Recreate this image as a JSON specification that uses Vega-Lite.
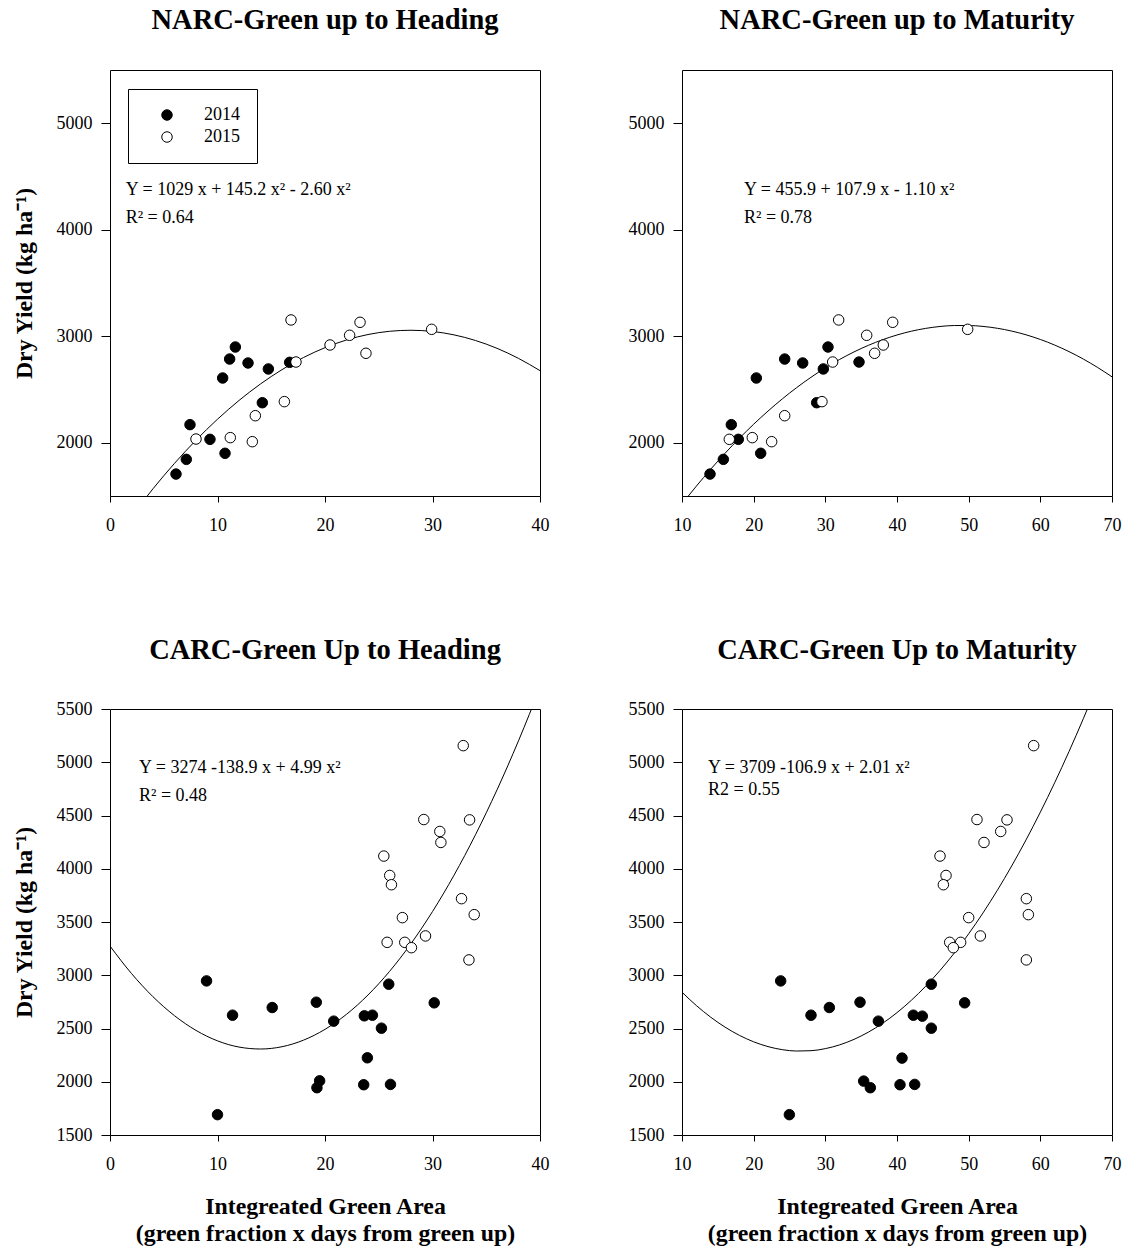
{
  "$schema": "https://vega.github.io/schema/vega-lite/v6.json",
  "background": "white",
  "padding": {"left": 11, "top": 5, "right": 5, "bottom": 5},
  "config": {
    "view": {"stroke": "black", "strokeWidth": 1},
    "font": "Liberation Serif",
    "axis": {"grid": false, "domain": false, "labelFont": "Liberation Serif", "labelFontSize": 18, "labelColor": "black", "tickColor": "black", "tickWidth": 1, "titleFont": "Liberation Serif", "titleFontSize": 23.8, "titleFontWeight": "bold", "titleColor": "black", "labelFlush": false, "labelOverlap": false, "format": "d"},
    "axisX": {"tickSize": 6, "labelPadding": 14, "titlePadding": 21, "titleLineHeight": 27},
    "axisY": {"tickSize": 9, "labelPadding": 9, "titlePadding": 20},
    "title": {"font": "Liberation Serif", "fontSize": 28.5, "fontWeight": "bold", "color": "black", "anchor": "middle", "frame": "group", "baseline": "alphabetic", "offset": 36}
  },
  "datasets": {
    "pts": [
      {"panel": "A", "year": "2014", "x": 6.14, "y": 1706}, {"panel": "A", "year": "2014", "x": 7.10, "y": 1844}, {"panel": "A", "year": "2014", "x": 7.44, "y": 2170}, {"panel": "A", "year": "2014", "x": 9.30, "y": 2032}, {"panel": "A", "year": "2014", "x": 10.70, "y": 1901}, {"panel": "A", "year": "2014", "x": 10.48, "y": 2608}, {"panel": "A", "year": "2014", "x": 11.13, "y": 2786}, {"panel": "A", "year": "2014", "x": 11.66, "y": 2899}, {"panel": "A", "year": "2014", "x": 12.84, "y": 2749}, {"panel": "A", "year": "2014", "x": 14.73, "y": 2693}, {"panel": "A", "year": "2014", "x": 14.17, "y": 2376}, {"panel": "A", "year": "2014", "x": 16.71, "y": 2755},
      {"panel": "A", "year": "2015", "x": 8.0, "y": 2035}, {"panel": "A", "year": "2015", "x": 11.19, "y": 2048}, {"panel": "A", "year": "2015", "x": 13.24, "y": 2010}, {"panel": "A", "year": "2015", "x": 13.52, "y": 2254}, {"panel": "A", "year": "2015", "x": 16.22, "y": 2386}, {"panel": "A", "year": "2015", "x": 16.84, "y": 3153}, {"panel": "A", "year": "2015", "x": 17.30, "y": 2758}, {"panel": "A", "year": "2015", "x": 20.47, "y": 2918}, {"panel": "A", "year": "2015", "x": 22.29, "y": 3009}, {"panel": "A", "year": "2015", "x": 23.26, "y": 3131}, {"panel": "A", "year": "2015", "x": 23.81, "y": 2840}, {"panel": "A", "year": "2015", "x": 29.92, "y": 3065},
      {"panel": "B", "year": "2014", "x": 13.91, "y": 1706}, {"panel": "B", "year": "2014", "x": 15.77, "y": 1844}, {"panel": "B", "year": "2014", "x": 16.88, "y": 2170}, {"panel": "B", "year": "2014", "x": 17.86, "y": 2032}, {"panel": "B", "year": "2014", "x": 20.98, "y": 1901}, {"panel": "B", "year": "2014", "x": 20.37, "y": 2608}, {"panel": "B", "year": "2014", "x": 24.33, "y": 2786}, {"panel": "B", "year": "2014", "x": 26.84, "y": 2749}, {"panel": "B", "year": "2014", "x": 29.72, "y": 2693}, {"panel": "B", "year": "2014", "x": 30.37, "y": 2899}, {"panel": "B", "year": "2014", "x": 28.79, "y": 2376}, {"panel": "B", "year": "2014", "x": 34.70, "y": 2758},
      {"panel": "B", "year": "2015", "x": 16.60, "y": 2032}, {"panel": "B", "year": "2015", "x": 19.81, "y": 2048}, {"panel": "B", "year": "2015", "x": 22.51, "y": 2010}, {"panel": "B", "year": "2015", "x": 24.33, "y": 2254}, {"panel": "B", "year": "2015", "x": 29.53, "y": 2386}, {"panel": "B", "year": "2015", "x": 31.86, "y": 3153}, {"panel": "B", "year": "2015", "x": 31.02, "y": 2758}, {"panel": "B", "year": "2015", "x": 35.77, "y": 3009}, {"panel": "B", "year": "2015", "x": 36.88, "y": 2840}, {"panel": "B", "year": "2015", "x": 38.09, "y": 2918}, {"panel": "B", "year": "2015", "x": 39.40, "y": 3131}, {"panel": "B", "year": "2015", "x": 49.86, "y": 3065},
      {"panel": "C", "year": "2014", "x": 8.98, "y": 2947}, {"panel": "C", "year": "2014", "x": 10.0, "y": 1691}, {"panel": "C", "year": "2014", "x": 11.40, "y": 2625}, {"panel": "C", "year": "2014", "x": 15.09, "y": 2697}, {"panel": "C", "year": "2014", "x": 19.19, "y": 2747}, {"panel": "C", "year": "2014", "x": 19.25, "y": 1944}, {"panel": "C", "year": "2014", "x": 19.50, "y": 2009}, {"panel": "C", "year": "2014", "x": 20.81, "y": 2569}, {"panel": "C", "year": "2014", "x": 23.60, "y": 1972}, {"panel": "C", "year": "2014", "x": 23.66, "y": 2619}, {"panel": "C", "year": "2014", "x": 24.41, "y": 2625}, {"panel": "C", "year": "2014", "x": 23.94, "y": 2225}, {"panel": "C", "year": "2014", "x": 25.25, "y": 2503}, {"panel": "C", "year": "2014", "x": 25.93, "y": 2916}, {"panel": "C", "year": "2014", "x": 26.09, "y": 1975}, {"panel": "C", "year": "2014", "x": 30.16, "y": 2741},
      {"panel": "C", "year": "2015", "x": 32.86, "y": 5156}, {"panel": "C", "year": "2015", "x": 29.19, "y": 4462}, {"panel": "C", "year": "2015", "x": 33.45, "y": 4459}, {"panel": "C", "year": "2015", "x": 30.68, "y": 4350}, {"panel": "C", "year": "2015", "x": 30.78, "y": 4247}, {"panel": "C", "year": "2015", "x": 25.47, "y": 4119}, {"panel": "C", "year": "2015", "x": 26.02, "y": 3937}, {"panel": "C", "year": "2015", "x": 26.18, "y": 3850}, {"panel": "C", "year": "2015", "x": 32.70, "y": 3719}, {"panel": "C", "year": "2015", "x": 33.88, "y": 3569}, {"panel": "C", "year": "2015", "x": 27.20, "y": 3541}, {"panel": "C", "year": "2015", "x": 25.78, "y": 3309}, {"panel": "C", "year": "2015", "x": 27.42, "y": 3309}, {"panel": "C", "year": "2015", "x": 28.04, "y": 3259}, {"panel": "C", "year": "2015", "x": 29.35, "y": 3369}, {"panel": "C", "year": "2015", "x": 33.39, "y": 3144},
      {"panel": "D", "year": "2014", "x": 23.77, "y": 2947}, {"panel": "D", "year": "2014", "x": 24.98, "y": 1691}, {"panel": "D", "year": "2014", "x": 28.0, "y": 2625}, {"panel": "D", "year": "2014", "x": 30.56, "y": 2697}, {"panel": "D", "year": "2014", "x": 34.84, "y": 2747}, {"panel": "D", "year": "2014", "x": 35.35, "y": 2006}, {"panel": "D", "year": "2014", "x": 36.28, "y": 1944}, {"panel": "D", "year": "2014", "x": 37.40, "y": 2569}, {"panel": "D", "year": "2014", "x": 40.42, "y": 1972}, {"panel": "D", "year": "2014", "x": 40.70, "y": 2222}, {"panel": "D", "year": "2014", "x": 42.28, "y": 2625}, {"panel": "D", "year": "2014", "x": 43.53, "y": 2616}, {"panel": "D", "year": "2014", "x": 42.47, "y": 1975}, {"panel": "D", "year": "2014", "x": 44.79, "y": 2916}, {"panel": "D", "year": "2014", "x": 44.79, "y": 2503}, {"panel": "D", "year": "2014", "x": 49.44, "y": 2741},
      {"panel": "D", "year": "2015", "x": 59.07, "y": 5156}, {"panel": "D", "year": "2015", "x": 51.16, "y": 4462}, {"panel": "D", "year": "2015", "x": 55.35, "y": 4459}, {"panel": "D", "year": "2015", "x": 54.47, "y": 4350}, {"panel": "D", "year": "2015", "x": 52.14, "y": 4247}, {"panel": "D", "year": "2015", "x": 46.0, "y": 4119}, {"panel": "D", "year": "2015", "x": 46.84, "y": 3937}, {"panel": "D", "year": "2015", "x": 46.47, "y": 3850}, {"panel": "D", "year": "2015", "x": 58.05, "y": 3719}, {"panel": "D", "year": "2015", "x": 58.33, "y": 3569}, {"panel": "D", "year": "2015", "x": 50.0, "y": 3541}, {"panel": "D", "year": "2015", "x": 47.35, "y": 3309}, {"panel": "D", "year": "2015", "x": 48.88, "y": 3309}, {"panel": "D", "year": "2015", "x": 47.86, "y": 3259}, {"panel": "D", "year": "2015", "x": 51.63, "y": 3369}, {"panel": "D", "year": "2015", "x": 58.05, "y": 3144}
    ],
    "fit": [
      {"panel": "A", "x": 2, "y": 1309.0}, {"panel": "A", "x": 4, "y": 1568.2}, {"panel": "A", "x": 6, "y": 1806.6}, {"panel": "A", "x": 8, "y": 2024.2}, {"panel": "A", "x": 10, "y": 2221.0}, {"panel": "A", "x": 12, "y": 2397.0}, {"panel": "A", "x": 14, "y": 2552.2}, {"panel": "A", "x": 16, "y": 2686.6}, {"panel": "A", "x": 18, "y": 2800.2}, {"panel": "A", "x": 20, "y": 2893.0}, {"panel": "A", "x": 22, "y": 2965.0}, {"panel": "A", "x": 24, "y": 3016.2}, {"panel": "A", "x": 26, "y": 3046.6}, {"panel": "A", "x": 28, "y": 3056.2}, {"panel": "A", "x": 30, "y": 3045.0}, {"panel": "A", "x": 32, "y": 3013.0}, {"panel": "A", "x": 34, "y": 2960.2}, {"panel": "A", "x": 36, "y": 2886.6}, {"panel": "A", "x": 38, "y": 2792.2}, {"panel": "A", "x": 40, "y": 2677.0},
      {"panel": "B", "x": 10, "y": 1424.9}, {"panel": "B", "x": 12, "y": 1592.3}, {"panel": "B", "x": 14, "y": 1750.9}, {"panel": "B", "x": 16, "y": 1900.7}, {"panel": "B", "x": 18, "y": 2041.7}, {"panel": "B", "x": 20, "y": 2173.9}, {"panel": "B", "x": 22, "y": 2297.3}, {"panel": "B", "x": 24, "y": 2411.9}, {"panel": "B", "x": 26, "y": 2517.7}, {"panel": "B", "x": 28, "y": 2614.7}, {"panel": "B", "x": 30, "y": 2702.9}, {"panel": "B", "x": 32, "y": 2782.3}, {"panel": "B", "x": 34, "y": 2852.9}, {"panel": "B", "x": 36, "y": 2914.7}, {"panel": "B", "x": 38, "y": 2967.7}, {"panel": "B", "x": 40, "y": 3011.9}, {"panel": "B", "x": 42, "y": 3047.3}, {"panel": "B", "x": 44, "y": 3073.9}, {"panel": "B", "x": 46, "y": 3091.7}, {"panel": "B", "x": 48, "y": 3100.7}, {"panel": "B", "x": 50, "y": 3100.9}, {"panel": "B", "x": 52, "y": 3092.3}, {"panel": "B", "x": 54, "y": 3074.9}, {"panel": "B", "x": 56, "y": 3048.7}, {"panel": "B", "x": 58, "y": 3013.7}, {"panel": "B", "x": 60, "y": 2969.9}, {"panel": "B", "x": 62, "y": 2917.3}, {"panel": "B", "x": 64, "y": 2855.9}, {"panel": "B", "x": 66, "y": 2785.7}, {"panel": "B", "x": 68, "y": 2706.7}, {"panel": "B", "x": 70, "y": 2618.9},
      {"panel": "C", "x": 0, "y": 3274.0}, {"panel": "C", "x": 2, "y": 3016.2}, {"panel": "C", "x": 4, "y": 2798.2}, {"panel": "C", "x": 6, "y": 2620.2}, {"panel": "C", "x": 8, "y": 2482.2}, {"panel": "C", "x": 10, "y": 2384.0}, {"panel": "C", "x": 12, "y": 2325.8}, {"panel": "C", "x": 14, "y": 2307.4}, {"panel": "C", "x": 16, "y": 2329.0}, {"panel": "C", "x": 18, "y": 2390.6}, {"panel": "C", "x": 20, "y": 2492.0}, {"panel": "C", "x": 22, "y": 2633.4}, {"panel": "C", "x": 24, "y": 2814.6}, {"panel": "C", "x": 26, "y": 3035.8}, {"panel": "C", "x": 28, "y": 3297.0}, {"panel": "C", "x": 30, "y": 3598.0}, {"panel": "C", "x": 32, "y": 3939.0}, {"panel": "C", "x": 34, "y": 4319.8}, {"panel": "C", "x": 36, "y": 4740.6}, {"panel": "C", "x": 38, "y": 5201.4}, {"panel": "C", "x": 40, "y": 5702.0},
      {"panel": "D", "x": 10, "y": 2841.0}, {"panel": "D", "x": 12, "y": 2715.6}, {"panel": "D", "x": 14, "y": 2606.4}, {"panel": "D", "x": 16, "y": 2513.2}, {"panel": "D", "x": 18, "y": 2436.0}, {"panel": "D", "x": 20, "y": 2375.0}, {"panel": "D", "x": 22, "y": 2330.0}, {"panel": "D", "x": 24, "y": 2301.2}, {"panel": "D", "x": 26, "y": 2288.4}, {"panel": "D", "x": 28, "y": 2291.6}, {"panel": "D", "x": 30, "y": 2311.0}, {"panel": "D", "x": 32, "y": 2346.4}, {"panel": "D", "x": 34, "y": 2398.0}, {"panel": "D", "x": 36, "y": 2465.6}, {"panel": "D", "x": 38, "y": 2549.2}, {"panel": "D", "x": 40, "y": 2649.0}, {"panel": "D", "x": 42, "y": 2764.8}, {"panel": "D", "x": 44, "y": 2896.8}, {"panel": "D", "x": 46, "y": 3044.8}, {"panel": "D", "x": 48, "y": 3208.8}, {"panel": "D", "x": 50, "y": 3389.0}, {"panel": "D", "x": 52, "y": 3585.2}, {"panel": "D", "x": 54, "y": 3797.6}, {"panel": "D", "x": 56, "y": 4026.0}, {"panel": "D", "x": 58, "y": 4270.4}, {"panel": "D", "x": 60, "y": 4531.0}, {"panel": "D", "x": 62, "y": 4807.6}, {"panel": "D", "x": 64, "y": 5100.4}, {"panel": "D", "x": 66, "y": 5409.2}, {"panel": "D", "x": 68, "y": 5734.0}
    ],
    "eq": [
      {"panel": "A", "x": 1.46, "y": 4373, "label": "Y = 1029 x + 145.2 x² - 2.60 x²"}, {"panel": "A", "x": 1.46, "y": 4110, "label": "R² = 0.64"},
      {"panel": "B", "x": 18.65, "y": 4373, "label": "Y = 455.9 + 107.9 x - 1.10 x²"}, {"panel": "B", "x": 18.65, "y": 4110, "label": "R² = 0.78"},
      {"panel": "C", "x": 2.70, "y": 4944, "label": "Y = 3274 -138.9 x + 4.99 x²"}, {"panel": "C", "x": 2.70, "y": 4685, "label": "R² = 0.48"},
      {"panel": "D", "x": 13.63, "y": 4944, "label": "Y = 3709 -106.9 x + 2.01 x²"}, {"panel": "D", "x": 13.63, "y": 4741, "label": "R2 = 0.55"}
    ]
  },
  "columns": 2,
  "spacing": {"row": 213, "column": 142},
  "bounds": "flush",
  "resolve": {"scale": {"fill": "independent"}},
  "concat": [
    {
      "width": 430, "height": 426,
      "title": "NARC-Green up to Heading",
      "encoding": {
        "x": {"field": "x", "type": "quantitative", "scale": {"domain": [0, 40], "nice": false, "zero": false}, "axis": {"values": [0, 10, 20, 30, 40], "title": null}},
        "y": {"field": "y", "type": "quantitative", "scale": {"domain": [1500, 5500], "nice": false, "zero": false}, "axis": {"values": [2000, 3000, 4000, 5000], "title": "Dry Yield (kg ha⁻¹)"}}
      },
      "layer": [
        {"data": {"name": "fit"}, "transform": [{"filter": "datum.panel === 'A'"}], "mark": {"type": "line", "color": "black", "strokeWidth": 1, "clip": true, "interpolate": "monotone"}},
        {"data": {"name": "pts"}, "transform": [{"filter": "datum.panel === 'A'"}], "mark": {"type": "point", "shape": "circle", "filled": true, "stroke": "black", "strokeWidth": 1, "size": 110, "opacity": 1},
         "encoding": {"fill": {"field": "year", "type": "nominal", "scale": {"domain": ["2014", "2015"], "range": ["black", "white"]},
           "legend": {"orient": "none", "legendX": 18, "legendY": 19, "title": null, "strokeColor": "black", "padding": 17, "symbolOffset": 13, "symbolSize": 110, "symbolType": "circle", "symbolStrokeColor": "black", "symbolStrokeWidth": 1, "labelOffset": 28, "rowPadding": 4, "labelFontSize": 18, "labelFont": "Liberation Serif", "labelColor": "black",
             "encode": {"labels": {"update": {"font": {"signal": "datum.label === '2014' ? 'Liberation Sans' : 'Liberation Serif'"}}}}}}}},
        {"data": {"name": "eq"}, "transform": [{"filter": "datum.panel === 'A'"}], "mark": {"type": "text", "align": "left", "baseline": "middle", "font": "Liberation Serif", "fontSize": 18, "color": "black"}, "encoding": {"text": {"field": "label"}}}
      ]
    },
    {
      "width": 430, "height": 426,
      "title": "NARC-Green up to Maturity",
      "encoding": {
        "x": {"field": "x", "type": "quantitative", "scale": {"domain": [10, 70], "nice": false, "zero": false}, "axis": {"values": [10, 20, 30, 40, 50, 60, 70], "title": null}},
        "y": {"field": "y", "type": "quantitative", "scale": {"domain": [1500, 5500], "nice": false, "zero": false}, "axis": {"values": [2000, 3000, 4000, 5000], "title": null}}
      },
      "layer": [
        {"data": {"name": "fit"}, "transform": [{"filter": "datum.panel === 'B'"}], "mark": {"type": "line", "color": "black", "strokeWidth": 1, "clip": true, "interpolate": "monotone"}},
        {"data": {"name": "pts"}, "transform": [{"filter": "datum.panel === 'B'"}], "mark": {"type": "point", "shape": "circle", "filled": true, "stroke": "black", "strokeWidth": 1, "size": 110, "opacity": 1},
         "encoding": {"fill": {"field": "year", "type": "nominal", "scale": {"domain": ["2014", "2015"], "range": ["black", "white"]}, "legend": null}}},
        {"data": {"name": "eq"}, "transform": [{"filter": "datum.panel === 'B'"}], "mark": {"type": "text", "align": "left", "baseline": "middle", "font": "Liberation Serif", "fontSize": 18, "color": "black"}, "encoding": {"text": {"field": "label"}}}
      ]
    },
    {
      "width": 430, "height": 426,
      "title": "CARC-Green Up to Heading",
      "encoding": {
        "x": {"field": "x", "type": "quantitative", "scale": {"domain": [0, 40], "nice": false, "zero": false}, "axis": {"values": [0, 10, 20, 30, 40], "title": ["Integreated Green Area", "(green fraction x days from green up)"]}},
        "y": {"field": "y", "type": "quantitative", "scale": {"domain": [1500, 5500], "nice": false, "zero": false}, "axis": {"values": [1500, 2000, 2500, 3000, 3500, 4000, 4500, 5000, 5500], "title": "Dry Yield (kg ha⁻¹)"}}
      },
      "layer": [
        {"data": {"name": "fit"}, "transform": [{"filter": "datum.panel === 'C'"}], "mark": {"type": "line", "color": "black", "strokeWidth": 1, "clip": true, "interpolate": "monotone"}},
        {"data": {"name": "pts"}, "transform": [{"filter": "datum.panel === 'C'"}], "mark": {"type": "point", "shape": "circle", "filled": true, "stroke": "black", "strokeWidth": 1, "size": 110, "opacity": 1},
         "encoding": {"fill": {"field": "year", "type": "nominal", "scale": {"domain": ["2014", "2015"], "range": ["black", "white"]}, "legend": null}}},
        {"data": {"name": "eq"}, "transform": [{"filter": "datum.panel === 'C'"}], "mark": {"type": "text", "align": "left", "baseline": "middle", "font": "Liberation Serif", "fontSize": 18, "color": "black"}, "encoding": {"text": {"field": "label"}}}
      ]
    },
    {
      "width": 430, "height": 426,
      "title": "CARC-Green Up to Maturity",
      "encoding": {
        "x": {"field": "x", "type": "quantitative", "scale": {"domain": [10, 70], "nice": false, "zero": false}, "axis": {"values": [10, 20, 30, 40, 50, 60, 70], "title": ["Integreated Green Area", "(green fraction x days from green up)"]}},
        "y": {"field": "y", "type": "quantitative", "scale": {"domain": [1500, 5500], "nice": false, "zero": false}, "axis": {"values": [1500, 2000, 2500, 3000, 3500, 4000, 4500, 5000, 5500], "title": null}}
      },
      "layer": [
        {"data": {"name": "fit"}, "transform": [{"filter": "datum.panel === 'D'"}], "mark": {"type": "line", "color": "black", "strokeWidth": 1, "clip": true, "interpolate": "monotone"}},
        {"data": {"name": "pts"}, "transform": [{"filter": "datum.panel === 'D'"}], "mark": {"type": "point", "shape": "circle", "filled": true, "stroke": "black", "strokeWidth": 1, "size": 110, "opacity": 1},
         "encoding": {"fill": {"field": "year", "type": "nominal", "scale": {"domain": ["2014", "2015"], "range": ["black", "white"]}, "legend": null}}},
        {"data": {"name": "eq"}, "transform": [{"filter": "datum.panel === 'D'"}], "mark": {"type": "text", "align": "left", "baseline": "middle", "font": "Liberation Serif", "fontSize": 18, "color": "black"}, "encoding": {"text": {"field": "label"}}}
      ]
    }
  ]
}
